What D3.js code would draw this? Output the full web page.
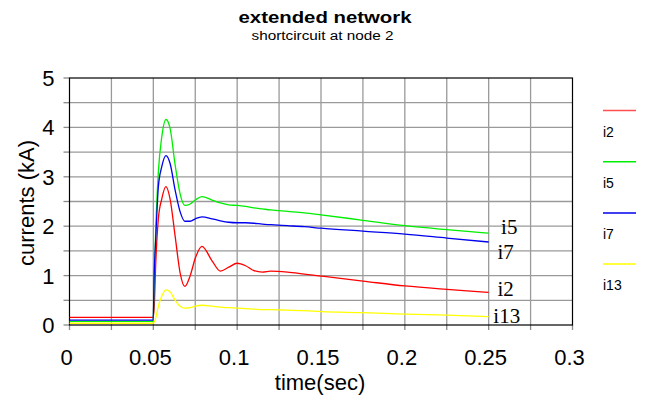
<!DOCTYPE html>
<html lang="en">
<head>
<meta charset="utf-8">
<title>extended network</title>
<script src="https://d3js.org/d3.v7.min.js"></script>
<style>
  body { margin: 0; background: #fff; }
  text { font-family: "Liberation Sans", Arial, sans-serif; }
</style>
</head>
<body>
<div id="chart"></div>
<script>

// time samples (sec), shared by every series
var times = [0, 0.0499, 0.0505, 0.0515, 0.053, 0.055, 0.0575, 0.060, 0.063, 0.066, 0.0688,
             0.072, 0.075, 0.079, 0.085, 0.09, 0.095, 0.1, 0.105, 0.11, 0.115, 0.12,
             0.13, 0.14, 0.15, 0.175, 0.2, 0.225, 0.25];

// currents (kA)
var i2  = [0.155, 0.155, 0.35, 1.3, 2.15, 2.55, 2.8, 2.55, 1.8, 1.05, 0.78,
           1.0, 1.35, 1.59, 1.3, 1.09, 1.17, 1.25, 1.2, 1.1, 1.07, 1.09,
           1.07, 1.03, 0.99, 0.89, 0.79, 0.72, 0.66];
var i5  = [0.075, 0.075, 0.9, 2.0, 3.1, 3.8, 4.16, 3.98, 3.24, 2.65, 2.42,
           2.45, 2.53, 2.6, 2.53, 2.47, 2.43, 2.42, 2.4, 2.37, 2.35, 2.33,
           2.3, 2.27, 2.23, 2.12, 2.01, 1.93, 1.86];
var i7  = [0.10, 0.10, 1.0, 1.8, 2.8, 3.2, 3.43, 3.27, 2.73, 2.29, 2.1,
           2.1, 2.15, 2.19, 2.15, 2.11, 2.08, 2.07, 2.07, 2.06, 2.04, 2.03,
           2.01, 1.99, 1.96, 1.9, 1.84, 1.76, 1.68];
var i13 = [0.035, 0.035, 0.06, 0.15, 0.38, 0.58, 0.71, 0.67, 0.5, 0.38, 0.34,
           0.35, 0.38, 0.40, 0.38, 0.36, 0.35, 0.34, 0.33, 0.32, 0.31, 0.31,
           0.30, 0.29, 0.27, 0.25, 0.22, 0.20, 0.17];

var seriesNames = ["i2", "i5", "i7", "i13"];
var seriesValues = [i2, i5, i7, i13];
var seriesColors = ["#ff0000", "#00ee00", "#0000ee", "#ffff00"];

var xTickValues = [0, 0.05, 0.1, 0.15, 0.2, 0.25, 0.3];
var xTickLabels = ["0", "0.05", "0.1", "0.15", "0.2", "0.25", "0.3"];
var yTickValues = [0, 1, 2, 3, 4, 5];
var yTickLabels = ["0", "1", "2", "3", "4", "5"];

// end-of-line annotations: [name, time, kA]
var endNotes = [["i5", 0.2574, 1.84], ["i7", 0.2552, 1.33], ["i2", 0.2552, 0.59], ["i13", 0.2528, 0.04]];

var W = 645, H = 401;
var margin = {top: 78, right: 72.5, bottom: 76, left: 69.5};

var svg = d3.select("#chart").append("svg")
    .attr("width", W)
    .attr("height", H);

var x = d3.scaleLinear().domain([0, 0.3]).range([margin.left, W - margin.right]);
var y = d3.scaleLinear().domain([0, 5]).range([H - margin.bottom, margin.top]);

// grid
svg.append("g")
  .selectAll("line")
  .data(d3.range(1, 12).map(function(k) { return k * 0.025; }))
  .enter().append("line")
    .attr("x1", function(d) { return x(d); })
    .attr("x2", function(d) { return x(d); })
    .attr("y1", y(0))
    .attr("y2", y(5))
    .attr("stroke", "#9a9a9a")
    .attr("stroke-width", 1.3);

svg.append("g")
  .selectAll("line")
  .data(d3.range(1, 10).map(function(k) { return k * 0.5; }))
  .enter().append("line")
    .attr("x1", x(0))
    .attr("x2", x(0.3))
    .attr("y1", function(d) { return y(d); })
    .attr("y2", function(d) { return y(d); })
    .attr("stroke", "#9a9a9a")
    .attr("stroke-width", 1.3);

// small ticks
svg.append("g")
  .selectAll("line")
  .data(d3.range(0, 13).map(function(k) { return k * 0.025; }))
  .enter().append("line")
    .attr("x1", function(d) { return x(d); })
    .attr("x2", function(d) { return x(d); })
    .attr("y1", y(0))
    .attr("y2", y(0) + 5)
    .attr("stroke", "#8a8a8a")
    .attr("stroke-width", 1.3);

svg.append("g")
  .selectAll("line")
  .data(d3.range(0, 11).map(function(k) { return k * 0.5; }))
  .enter().append("line")
    .attr("x1", x(0) - 6)
    .attr("x2", x(0))
    .attr("y1", function(d) { return y(d); })
    .attr("y2", function(d) { return y(d); })
    .attr("stroke", "#8a8a8a")
    .attr("stroke-width", 1.3);

// frame
svg.append("rect")
    .attr("x", x(0))
    .attr("y", y(5))
    .attr("width", x(0.3) - x(0))
    .attr("height", y(0) - y(5))
    .attr("fill", "none")
    .attr("stroke", "#000")
    .attr("stroke-width", 1.2);

// tick labels
svg.append("g")
  .selectAll("text")
  .data(xTickValues)
  .enter().append("text")
    .attr("x", function(d) { return x(d) - 3; })
    .attr("y", y(0) + 40)
    .attr("text-anchor", "middle")
    .style("font-size", "22px")
    .text(function(d, i) { return xTickLabels[i]; });

svg.append("g")
  .selectAll("text")
  .data(yTickValues)
  .enter().append("text")
    .attr("x", x(0) - 15)
    .attr("y", function(d) { return y(d); })
    .attr("dy", "0.36em")
    .attr("text-anchor", "end")
    .style("font-size", "22px")
    .text(function(d, i) { return yTickLabels[i]; });

// lines
var line = d3.line()
    .x(function(d) { return x(d[0]); })
    .y(function(d) { return y(d[1]); })
    .curve(d3.curveMonotoneX);

seriesValues.forEach(function(vals, s) {
  svg.append("path")
    .datum(times.map(function(t, i) { return [t, vals[i]]; }))
    .attr("d", line)
    .attr("fill", "none")
    .attr("stroke", seriesColors[s])
    .attr("stroke-width", 1.3);
});

// end labels
svg.append("g")
  .selectAll("text")
  .data(endNotes)
  .enter().append("text")
    .attr("x", function(d) { return x(d[1]); })
    .attr("y", function(d) { return y(d[2]); })
    .style("font-family", "'Liberation Serif', 'Times New Roman', serif")
    .style("font-size", "21px")
    .text(function(d) { return d[0]; });

// legend
var legend = svg.append("g");
seriesNames.forEach(function(name, s) {
  var ly = 110.5 + s * 51.2;
  legend.append("line")
    .attr("x1", 603).attr("x2", 636)
    .attr("y1", ly).attr("y2", ly)
    .attr("stroke", s === 0 ? "#ff5050" : seriesColors[s])
    .attr("stroke-width", 1.5);
  legend.append("text")
    .attr("x", 603)
    .attr("y", ly + 26)
    .style("font-size", "14px")
    .text(name);
});

// titles
svg.append("text")
    .attr("x", 325).attr("y", 23)
    .attr("text-anchor", "middle")
    .attr("textLength", 173)
    .attr("lengthAdjust", "spacingAndGlyphs")
    .style("font-size", "16px")
    .style("font-weight", "bold")
    .text("extended network");

svg.append("text")
    .attr("x", 322.5).attr("y", 40)
    .attr("text-anchor", "middle")
    .attr("textLength", 142)
    .attr("lengthAdjust", "spacingAndGlyphs")
    .style("font-size", "12px")
    .text("shortcircuit at node 2");

svg.append("text")
    .attr("x", 320).attr("y", 390)
    .attr("text-anchor", "middle")
    .style("font-size", "22px")
    .text("time(sec)");

svg.append("text")
    .attr("transform", "translate(34,203) rotate(-90)")
    .attr("text-anchor", "middle")
    .style("font-size", "22px")
    .text("currents (kA)");

</script>
</body>
</html>
